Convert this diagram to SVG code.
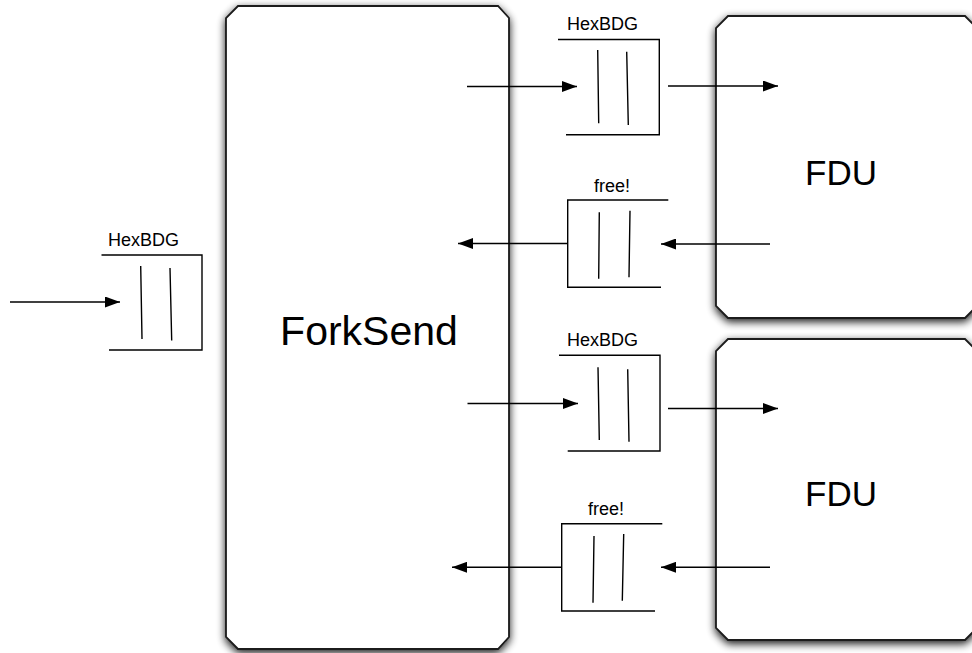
<svg xmlns="http://www.w3.org/2000/svg" width="972" height="653" viewBox="0 0 972 653">
  <defs>
    <filter id="shadow" x="-10%" y="-10%" width="130%" height="130%">
      <feGaussianBlur in="SourceAlpha" stdDeviation="4"/>
      <feOffset dx="0" dy="3" result="blur"/>
      <feComponentTransfer><feFuncA type="linear" slope="0.9"/></feComponentTransfer>
      <feMerge><feMergeNode/><feMergeNode in="SourceGraphic"/></feMerge>
    </filter>
    <marker id="arrow" markerUnits="userSpaceOnUse" markerWidth="15" markerHeight="11" refX="15" refY="5.5" orient="auto">
      <path d="M0,0 L15,5.5 L0,11 z" fill="#000"/>
    </marker>
  </defs>
  <style>
    .box { fill: #fff; stroke: #1a1a1a; stroke-width: 1.8; filter: url(#shadow); }
    .q { fill: none; stroke: #000; stroke-width: 1.4; }
    .edge { fill: none; stroke: #000; stroke-width: 1.4; marker-end: url(#arrow); }
    .big { font-family: "Liberation Sans", Arial, sans-serif; font-size: 41px; fill: #000; text-anchor: middle; }
    .fdu { font-size: 35px; }
    .lbl { font-family: "Liberation Sans", Arial, sans-serif; font-size: 18px; fill: #000; text-anchor: start; }
  </style>

  <rect width="972" height="653" fill="#fff"/>

  <!-- process blocks -->
  <g id="forksend">
    <path class="box" d="M238,6 H498 L509,18 V637 L498,649 H238 L226,637 V18 Z"/>
    <text class="big" x="369" y="345">ForkSend</text>
  </g>
  <g id="fdu1">
    <path class="box" d="M728,16 H965 L977,28 V306 L965,318 H728 L716,306 V28 Z"/>
    <text class="big fdu" x="841" y="185">FDU</text>
  </g>
  <g id="fdu2">
    <path class="box" d="M728,339 H965 L977,351 V628 L965,640 H728 L716,628 V351 Z"/>
    <text class="big fdu" x="841" y="506">FDU</text>
  </g>

  <!-- connectors -->
  <g id="connectors">
    <line class="edge" x1="10" y1="302" x2="120" y2="302"/>
    <line class="edge" x1="467" y1="86.5" x2="577" y2="86.5"/>
    <line class="edge" x1="668" y1="86" x2="778" y2="86"/>
    <line class="edge" x1="567.7" y1="243.5" x2="458" y2="243.5"/>
    <line class="edge" x1="770" y1="244" x2="661" y2="244"/>
    <line class="edge" x1="467.5" y1="403.5" x2="578" y2="403.5"/>
    <line class="edge" x1="668" y1="408.5" x2="778" y2="408.5"/>
    <line class="edge" x1="561.7" y1="567.3" x2="452" y2="567.3"/>
    <line class="edge" x1="770" y1="567.3" x2="661" y2="567.3"/>
  </g>

  <!-- buffer queues -->
  <g id="queue-in">
    <text class="lbl" x="108" y="246">HexBDG</text>
    <path class="q" d="M101.5,255 H202 V350 H109"/>
    <path class="q" d="M140.7,266 L142,339 M170,268 L171.7,340.5"/>
  </g>
  <g id="queue-out1">
    <text class="lbl" x="567" y="30">HexBDG</text>
    <path class="q" d="M558,39.5 H659.3 V134.7 H566"/>
    <path class="q" d="M597.7,50 L598.7,123.3 M626.7,51.7 L628.3,125"/>
  </g>
  <g id="queue-free1">
    <text class="lbl" x="594" y="192">free!</text>
    <path class="q" d="M668.3,200 H567.7 V287.3 H661"/>
    <path class="q" d="M599.3,212.3 L598.7,278.7 M630,210.7 L629,277.3"/>
  </g>
  <g id="queue-out2">
    <text class="lbl" x="567" y="346">HexBDG</text>
    <path class="q" d="M559,355.3 H660 V451 H567.7"/>
    <path class="q" d="M598,367.3 L599.3,440 M627.7,369.3 L629,441.7"/>
  </g>
  <g id="queue-free2">
    <text class="lbl" x="588" y="515">free!</text>
    <path class="q" d="M662.3,523.7 H561.7 V611 H655"/>
    <path class="q" d="M594,536 L593,602.7 M623.7,534 L622.3,600.7"/>
  </g>
</svg>
